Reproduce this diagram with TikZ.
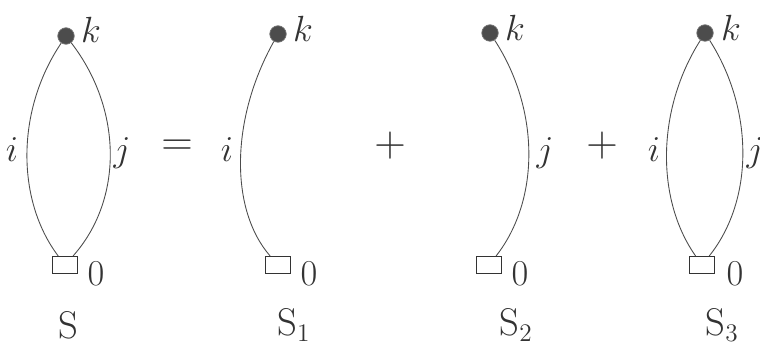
\documentclass[tikz,border=0pt]{standalone}
\begin{document}
\begin{tikzpicture}[x=0.02cm,y=-0.02cm,
  vert/.style={circle,fill=black!70,draw=black!55,minimum size=0.33cm,inner sep=0pt},
  root/.style={rectangle,draw=black!80,line width=0.6pt,minimum width=0.5cm,minimum height=0.34cm,inner sep=0pt,fill=white},
  edge/.style={draw=black!70,line width=0.5pt},
  lbl/.style={font=\fontsize{22}{24}\selectfont,inner sep=0pt,text=black!80},
  bigop/.style={font=\fontsize{24}{26}\selectfont,inner sep=0pt,text=black!80}]
\useasboundingbox (0,0) rectangle (760,344);
% ---- S ----
\node[vert] (k0) at (66,36) {};
\node[root] (b0) at (65,265) {};
\draw[edge] (k0) .. controls (16,110) and (16,200) .. (b0);
\draw[edge] (k0) .. controls (123,110) and (123,200) .. (b0);
\node[lbl] (kl0) at (91,30) {$k$};
\node[lbl] (il0) at (12,150) {$i$};
\node[lbl] (jl0) at (122,153) {$j$};
\node[lbl] (zl0) at (96,274) {$0$};
\node[lbl] (s0) at (68,325) {S};
\node[bigop] (eq) at (177,148) {$=$};
% ---- S1 ----
\node[vert] (k1) at (278,34) {};
\node[root] (b1) at (278,265) {};
\draw[edge] (k1) .. controls (230,120) and (230,210) .. (b1);
\node[lbl] (kl1) at (303,29) {$k$};
\node[lbl] (il1) at (227,150) {$i$};
\node[lbl] (zl1) at (309,274) {$0$};
\node[lbl] (s1) at (294,325) {S$_1$};
\node[bigop] (p1) at (390,146) {$+$};
% ---- S2 ----
\node[vert] (k2) at (490,33) {};
\node[root] (b2) at (489,265) {};
\draw[edge] (k2) .. controls (540,110) and (540,200) .. (b2);
\node[lbl] (kl2) at (515,28) {$k$};
\node[lbl] (jl2) at (545,153) {$j$};
\node[lbl] (zl2) at (520,274) {$0$};
\node[lbl] (s2) at (516,325) {S$_2$};
\node[bigop] (p2) at (602,146) {$+$};
% ---- S3 ----
\node[vert] (k3) at (705,33) {};
\node[root] (b3) at (702,265) {};
\draw[edge] (k3) .. controls (656,110) and (656,200) .. (b3);
\draw[edge] (k3) .. controls (754,110) and (754,200) .. (b3);
\node[lbl] (kl3) at (731,28) {$k$};
\node[lbl] (il3) at (654,150) {$i$};
\node[lbl] (jl3) at (755,153) {$j$};
\node[lbl] (zl3) at (735,274) {$0$};
\node[lbl] (s3) at (722,325) {S$_3$};
\end{tikzpicture}
\end{document}
